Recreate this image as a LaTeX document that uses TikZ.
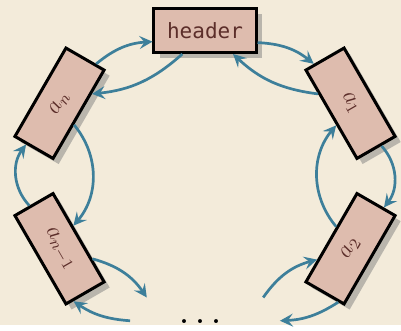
\documentclass[tikz,border=0pt]{standalone}
\usepackage{fontspec}
\newfontfamily\hdmono{DejaVu Sans Mono}
\usepackage{tikz}
\usetikzlibrary{shapes, arrows.meta, shadows}
\definecolor{bgcream}{RGB}{243, 235, 218}
\definecolor{cellfill}{RGB}{222, 188, 174}
\definecolor{celltext}{RGB}{92, 46, 42}
\definecolor{linkblue}{RGB}{61, 127, 154}

\begin{document}
\begin{tikzpicture}[x=1.278cm, y=1.278cm,
  cell/.style={draw=black, line width=1.5pt, fill=cellfill, text=celltext, minimum width=51pt, minimum height=22pt, inner sep=0pt, font=\large, drop shadow={shadow xshift=2.8pt, shadow yshift=-2.8pt}},
  link/.style={draw=linkblue, line width=1.35pt, -{Stealth[length=6.5pt, width=6.5pt, inset=2.5pt]}}]
  \fill[bgcream] (-2.818,-2.048) rectangle (2.694,2.419);
  % the ring of cells
  \node[cell, font=\hdmono\fontsize{10.5}{12}\selectfont] (hd) at (0,2) {header};
  \node[cell, rotate=-60] (a1) at (2,1) {$a_1$};
  \node[cell, rotate=60] (a2) at (2,-1) {$a_2$};
  \node[cell, rotate=-60] (am) at (-2,-1) {$a_{n-1}$};
  \node[cell, rotate=60] (an) at (-2,1) {$a_n$};
  \node (dots) at (-0.06,-2) {\fontsize{24}{28}\selectfont .\kern2pt.\kern2pt.};
  \coordinate (outR) at (1.03,-1.99);
  \coordinate (inR) at (0.8,-1.67);
  \coordinate (outL) at (-1.03,-1.99);
  \coordinate (inL) at (-0.8,-1.67);
  % next and prev links
  \draw[link] (hd.-13) to[bend left=18] (a1.193);
  \draw[link] (a1.224) to[bend left=18] (hd.-40);
  \draw[link] (a1.6) to[bend left=40] (a2.-9);
  \draw[link] (a2.63) to[bend left=40] (a1.-63);
  \draw[link] (a2.197) to[bend left=15] (outR);
  \draw[link] (inR) to[bend left=20] (a2.138);
  \draw[link] (outL) to[bend left=15] (am.-15);
  \draw[link] (am.43) to[bend left=20] (inL);
  \draw[link] (am.185) to[bend left=40] (an.171);
  \draw[link] (an.244) to[bend left=40] (am.119);
  \draw[link] (an.-13) to[bend left=18] (hd.192);
  \draw[link] (hd.226) to[bend left=18] (an.-44);
\end{tikzpicture}
\end{document}
